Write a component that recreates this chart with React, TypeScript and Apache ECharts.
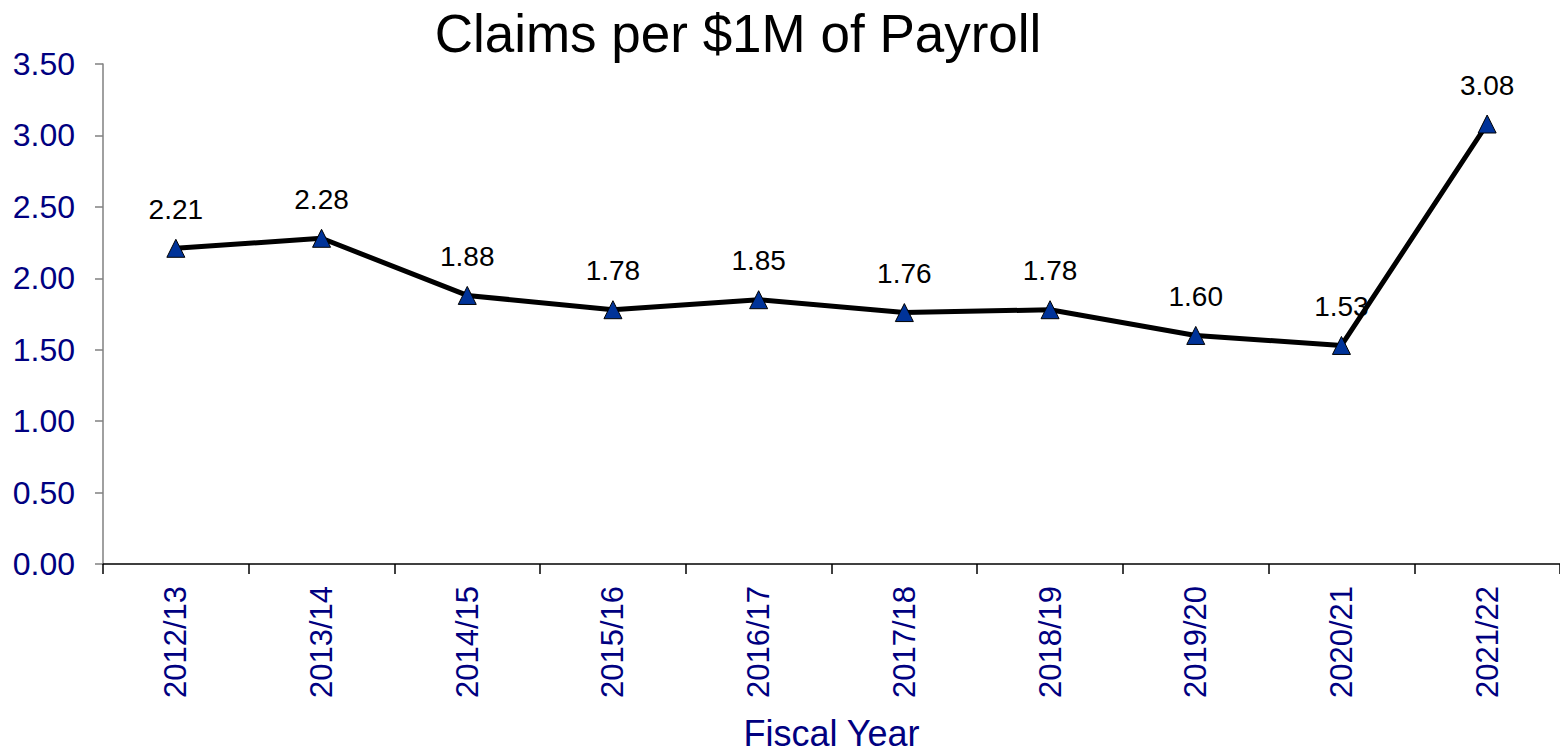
import React, { useEffect, useRef } from "react";
import * as echarts from "echarts";

const categories = ["2012/13", "2013/14", "2014/15", "2015/16", "2016/17", "2017/18", "2018/19", "2019/20", "2020/21", "2021/22"];
const claimsPerMillion = [2.21, 2.28, 1.88, 1.78, 1.85, 1.76, 1.78, 1.6, 1.53, 3.08];
const titleText = "Claims per $1M of Payroll";
const xAxisName = "Fiscal Year";

export default function App() {
  const ref = useRef<HTMLDivElement>(null);
  useEffect(() => {
    document.body.style.margin = "0";
    const chart = echarts.init(ref.current!, null, { renderer: "svg" });
    const font = "'Liberation Sans', Arial, sans-serif";
    chart.setOption({
      animation: false,
      backgroundColor: "#ffffff",
      textStyle: { fontFamily: font },
      title: {
        text: titleText,
        left: 733,
        top: 2,
        textAlign: "center",
        textStyle: { fontSize: 53, fontWeight: "normal", color: "#000000", fontFamily: font },
      },
      grid: { left: 103, right: 0, top: 64, bottom: 190, containLabel: false, outerBoundsMode: "none" },
      xAxis: {
        type: "category",
        data: categories,
        boundaryGap: true,
        axisLine: { show: true, lineStyle: { color: "#000000", width: 1.5 } },
        axisTick: { show: true, alignWithLabel: false, length: 10, lineStyle: { color: "#000000", width: 1.5 } },
        axisLabel: { rotate: 90, color: "#000080", fontSize: 31, margin: 22, fontFamily: font },
        splitLine: { show: false },
        name: xAxisName,
        nameLocation: "middle",
        nameGap: 151,
        nameTextStyle: { color: "#000080", fontSize: 36, fontFamily: font },
      },
      yAxis: {
        type: "value",
        min: 0,
        max: 3.5,
        interval: 0.5,
        axisLine: { show: true, lineStyle: { color: "#808080", width: 1.5 } },
        axisTick: { show: true, length: 8, lineStyle: { color: "#808080", width: 1.5 } },
        axisLabel: {
          color: "#000080",
          fontSize: 32,
          margin: 28,
          fontFamily: font,
          formatter: (v: number) => v.toFixed(2),
        },
        splitLine: { show: false },
      },
      series: [
        {
          type: "scatter",
          data: claimsPerMillion,
          symbol: "triangle",
          symbolSize: 18,
          itemStyle: { color: "rgba(0,0,0,0)", opacity: 1 },
          label: {
            show: true,
            position: "top",
            distance: 16,
            color: "#000000",
            fontSize: 28,
            fontFamily: font,
            formatter: (p: any) => Number(p.value).toFixed(2),
          },
          silent: true,
          z: 1,
        },
        {
          type: "line",
          data: claimsPerMillion,
          symbol: "triangle",
          symbolSize: 18,
          showAllSymbol: true,
          lineStyle: { color: "#000000", width: 5 },
          itemStyle: { color: "#003399", borderColor: "#000000", borderWidth: 1 },
          label: { show: false },
          z: 3,
        },
      ],
    });
    return () => chart.dispose();
  }, []);
  return <div ref={ref} style={{ width: 1560, height: 754 }} />;
}
